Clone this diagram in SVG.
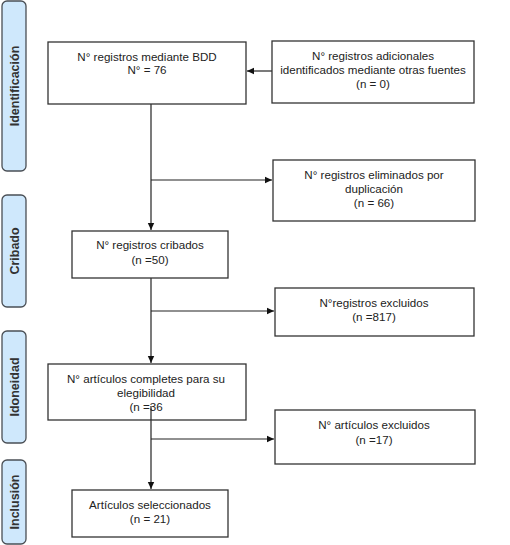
<svg xmlns="http://www.w3.org/2000/svg" width="510" height="545" viewBox="0 0 510 545">
<defs>
<marker id="ah" markerWidth="8" markerHeight="8" refX="7" refY="4" orient="auto" markerUnits="userSpaceOnUse">
<path d="M0,0.8 L7,4 L0,7.2 Z" fill="#111"/>
</marker>
<style>
.box{fill:#fff;stroke:#333;stroke-width:1.3}
.side{fill:#cfe8fc;stroke:#4a4f55;stroke-width:1.3}
.t{font-family:"Liberation Sans",Arial,sans-serif;font-size:11.6px;fill:#222;text-anchor:middle}
.s{font-family:"Liberation Sans",Arial,sans-serif;font-size:12.5px;font-weight:bold;fill:#333;text-anchor:middle}
.c{fill:none;stroke:#222;stroke-width:1.2}
</style>
</defs>
<rect width="510" height="545" fill="#fff"/>
<g id="side-identificacion"><rect class="side" x="2" y="1" width="24" height="170" rx="5"/><text class="s" transform="translate(18.5,86) rotate(-90)">Identificación</text></g>
<g id="side-cribado"><rect class="side" x="2" y="195" width="24" height="112" rx="5"/><text class="s" transform="translate(18.5,251) rotate(-90)">Cribado</text></g>
<g id="side-idoneidad"><rect class="side" x="2" y="331" width="24" height="112" rx="5"/><text class="s" transform="translate(18.5,387) rotate(-90)">Idoneidad</text></g>
<g id="side-inclusion"><rect class="side" x="2" y="460" width="24" height="84" rx="5"/><text class="s" transform="translate(18.5,502) rotate(-90)">Inclusión</text></g>
<g id="connectors">
<line class="c" x1="272" y1="71" x2="247" y2="71" marker-end="url(#ah)"/>
<line class="c" x1="151" y1="104" x2="151" y2="230" marker-end="url(#ah)"/>
<line class="c" x1="151" y1="180" x2="272" y2="180" marker-end="url(#ah)"/>
<line class="c" x1="151" y1="278" x2="151" y2="363" marker-end="url(#ah)"/>
<line class="c" x1="151" y1="311" x2="274" y2="311" marker-end="url(#ah)"/>
<line class="c" x1="151" y1="406" x2="151" y2="489" marker-end="url(#ah)"/>
<line class="c" x1="151" y1="439" x2="274" y2="439" marker-end="url(#ah)"/>
</g>
<g id="n1"><rect class="box" x="48" y="42" width="198" height="62"/><text class="t" x="147" y="61">N° registros mediante BDD</text><text class="t" x="147" y="74">N° = 76</text></g>
<g id="n2"><rect class="box" x="272" y="41" width="202" height="62"/><text class="t" x="373" y="60">N° registros adicionales</text><text class="t" x="373" y="74">identificados mediante otras fuentes</text><text class="t" x="373" y="88">(n = 0)</text></g>
<g id="n3"><rect class="box" x="273" y="160" width="202" height="61"/><text class="t" x="374" y="179">N° registros eliminados por</text><text class="t" x="374" y="193">duplicación</text><text class="t" x="374" y="207">(n = 66)</text></g>
<g id="n4"><rect class="box" x="72" y="231" width="156" height="47"/><text class="t" x="150" y="249">N° registros cribados</text><text class="t" x="150" y="264">(n =50)</text></g>
<g id="n5"><rect class="box" x="275" y="288" width="199" height="48"/><text class="t" x="374" y="307">N°registros excluidos</text><text class="t" x="374" y="321">(n =817)</text></g>
<g id="n6"><rect class="box" x="48" y="364" width="198" height="56"/><text class="t" x="146" y="383">N° artículos completes para su</text><text class="t" x="146" y="397">elegibilidad</text><text class="t" x="146" y="411">(n =36</text></g>
<g id="n7"><rect class="box" x="275" y="410" width="200" height="54"/><text class="t" x="374" y="429">N° artículos excluidos</text><text class="t" x="374" y="444">(n =17)</text></g>
<g id="n8"><rect class="box" x="72" y="490" width="156" height="47"/><text class="t" x="150" y="509">Artículos seleccionados</text><text class="t" x="150" y="523">(n = 21)</text></g>
<line class="c" x1="151" y1="406" x2="151" y2="420"/>
</svg>
